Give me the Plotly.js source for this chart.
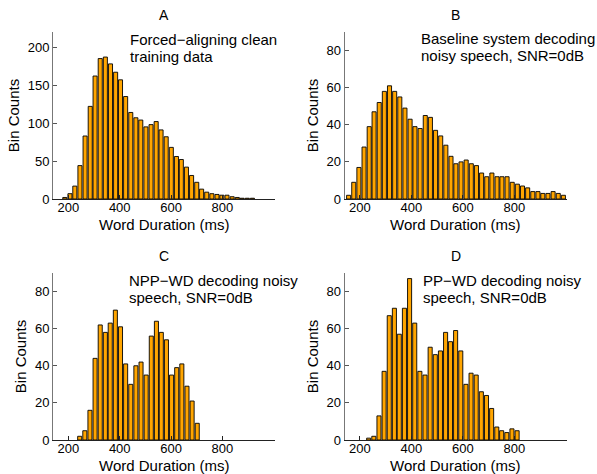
<!DOCTYPE html>
<html>
<head>
<meta charset="utf-8">
<script src="https://cdn.plot.ly/plotly-3.0.1.min.js"></script>
<style>html,body{margin:0;padding:0;background:#fff;}#chart{width:597px;height:474px;}</style>
</head>
<body>
<div id="chart"></div>
<script>
// Panel A: forced-aligning clean training data
const xA = [186,206,225,245,265,285,304,324,344,364,384,403,423,443,463,482,502,522,542,561,581,601,621,640,660,680,700,719,739,759,779,798,818,838,858,877,897,917];
const yA = [2,7,17,44,83,122,162,185,187,178,167,157,135,114,107,104,95,98,102,91,82,68,56,52,42,31,22,13,9,7,6,5,5,3,2,1,1,1];
// Panel B: baseline system decoding noisy speech
const xB = [156,176,196,216,236,255,275,295,315,335,355,375,395,414,434,454,474,494,514,534,554,573,593,613,633,653,673,693,713,733,752,772,792,812,832,852,872,892,911,931,951,971,991];
const yB = [2,9,17,28,39,47,52,58,61,58,55,49,43,39,38,45,44,37,34,29,23,19,20,21,19,18,14,12,14,12,12,12,9,8,7,6,4,4,3,3,4,3,2];
// Panel C: NPP-WD decoding noisy speech
const xC = [244,264,284,304,324,344,363,383,403,423,443,463,483,503,523,543,562,582,602,622,642,662,682,702];
const yC = [2,5,16,44,62,58,63,70,61,41,30,40,42,35,56,64,58,54,35,39,41,29,21,9];
// Panel D: PP-WD decoding noisy speech
const xD = [234,254,274,294,314,334,353,373,393,413,433,453,473,493,513,533,552,572,592,612,632,652,672,692,712,732,751,771,791,811];
const yD = [1,2,13,37,67,71,57,71,87,63,37,35,50,46,48,58,53,59,48,30,36,35,26,24,17,7,5,4,6,5];

const panelLetters = ['A','B','C','D'];
const panelNotes = [['Forced\u2212aligning clean','training data'],
                    ['Baseline system decoding','noisy speech, SNR=0dB'],
                    ['NPP\u2212WD decoding noisy','speech, SNR=0dB'],
                    ['PP\u2212WD decoding noisy','speech, SNR=0dB']];
const xTitle = 'Word Duration (ms)';
const yTitle = 'Bin Counts';
const xTicks = [200,400,600,800];
const yTicksA = [0,50,100,150,200];
const yTicksOther = [0,20,40,60,80];

const W = 597, H = 474;
const FONT = 'Liberation Sans, Arial, Helvetica, sans-serif';
const orange = '#FFA500';

function bar(x, y, ax) {
  return {type:'bar', x:x, y:y, width:15.8, xaxis:'x'+ax, yaxis:'y'+ax,
    marker:{color:orange, line:{color:'#000', width:0.9}}, hoverinfo:'skip'};
}
const data = [bar(xA,yA,''), bar(xB,yB,'2'), bar(xC,yC,'3'), bar(xD,yD,'4')];

const colsPx = [[53,275],[344.5,567]];
const rowsPx = [[32,199],[273,440]];
function xd(c){return [colsPx[c][0]/W, colsPx[c][1]/W];}
function yd(r){return [1-rowsPx[r][1]/H, 1-rowsPx[r][0]/H];}

function xaxis(c, anchor){
  return {domain:xd(c), anchor:anchor, range:[140,1005], tickvals:xTicks, ticktext:xTicks.map(String),
    showline:true, linecolor:'#222', linewidth:1, ticks:'inside', ticklen:4, tickcolor:'#222',
    showgrid:false, zeroline:false, tickfont:{family:FONT,size:13,color:'#000'},
    ticklabelstandoff:-4};
}
function yaxis(r, anchor, rng, ticks){
  return {domain:yd(r), anchor:anchor, range:rng, tickvals:ticks, ticktext:ticks.map(String),
    showline:true, linecolor:'#777', linewidth:1, ticks:'inside', ticklen:4, tickcolor:'#555',
    showgrid:false, zeroline:false, tickfont:{family:FONT,size:13,color:'#000'},
    title:{text:yTitle, font:{family:FONT,size:15,color:'#000'}, standoff:4}};
}

const annotations = [];
const cells = [[0,0],[1,0],[0,1],[1,1]];
const noteX = [128,419,127,421];
const noteY = [[39,56.5],[38.5,55.5],[280,297],[280,297]];
const xTitleY = [224, 465];
function ann(x, y, text, anchorX, size){
  return {xref:'paper', yref:'paper', x:x/W, y:1-y/H, text:text, showarrow:false,
    xanchor:anchorX, yanchor:'middle', align:'left', font:{family:FONT,size:size,color:'#000'}};
}
cells.forEach(([c,r],i)=>{
  const cx = (colsPx[c][0]+colsPx[c][1])/2;
  annotations.push(ann(cx, rowsPx[r][0]-17, panelLetters[i], 'center', 14));
  annotations.push(ann(cx, xTitleY[r], xTitle, 'center', 15));
  panelNotes[i].forEach((line,k)=>annotations.push(ann(noteX[i], noteY[i][k], line, 'left', 15)));
});

const layout = {
  width:W, height:H, margin:{l:0,r:0,t:0,b:0}, paper_bgcolor:'#fff', plot_bgcolor:'#fff',
  showlegend:false, bargap:0.2,
  font:{family:FONT, color:'#000'},
  xaxis:xaxis(0,'y'), yaxis:yaxis(0,'x',[0,220],yTicksA),
  xaxis2:xaxis(1,'y2'), yaxis2:yaxis(0,'x2',[0,90],yTicksOther),
  xaxis3:xaxis(0,'y3'), yaxis3:yaxis(1,'x3',[0,90],yTicksOther),
  xaxis4:xaxis(1,'y4'), yaxis4:yaxis(1,'x4',[0,90],yTicksOther),
  annotations:annotations
};
Plotly.newPlot('chart', data, layout, {staticPlot:true, displayModeBar:false});
</script>
</body>
</html>
